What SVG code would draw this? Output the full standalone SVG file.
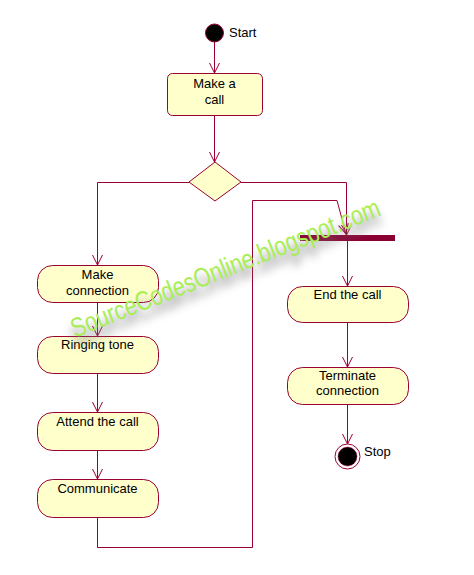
<svg xmlns="http://www.w3.org/2000/svg" width="474" height="575" viewBox="0 0 474 575">
<style>
.st{fill:#FFFFCC;stroke:#990033;stroke-width:1}
.ln{fill:none;stroke:#990033;stroke-width:1}
.tx{font-family:"Liberation Sans",Arial,sans-serif;font-size:13px;fill:#000;text-anchor:middle}
.lb{font-family:"Liberation Sans",Arial,sans-serif;font-size:13px;fill:#000}
.wm{font-family:"Liberation Sans",Arial,sans-serif;font-size:27px}
</style>
<defs>
<marker id="ar" markerUnits="userSpaceOnUse" markerWidth="14" markerHeight="14" refX="0" refY="0" viewBox="-12 -7 14 14" orient="auto" overflow="visible">
<path d="M-10,-5 L0,0 L-10,5" fill="none" stroke="#990033" stroke-width="1"/>
</marker>
<filter id="sh" x="-20%" y="-100%" width="140%" height="300%">
<feGaussianBlur stdDeviation="4"/>
</filter>
</defs>
<rect width="474" height="575" fill="#fff"/>
<g id="connectors">
<path class="ln" d="M214.5,42 V73" marker-end="url(#ar)"/>
<path class="ln" d="M214.5,115 V162" marker-end="url(#ar)"/>
<path class="ln" d="M189,182.5 H97.5 V265" marker-end="url(#ar)"/>
<path class="ln" d="M241,182.5 H346.5 V235" marker-end="url(#ar)"/>
<path class="ln" d="M97.5,302 V336" marker-end="url(#ar)"/>
<path class="ln" d="M97.5,373 V412" marker-end="url(#ar)"/>
<path class="ln" d="M97.5,450 V479" marker-end="url(#ar)"/>
<path class="ln" d="M97.5,517 V547.5 H252.5 V200.5 H337 L346,234" marker-end="url(#ar)"/>
<path class="ln" d="M347.5,241 V286" marker-end="url(#ar)"/>
<path class="ln" d="M347.5,322 V367" marker-end="url(#ar)"/>
<path class="ln" d="M347.5,404 V444" marker-end="url(#ar)"/>
</g>
<g id="start">
<circle cx="214.5" cy="33" r="9" fill="#000" stroke="#990033"/>
<text class="lb" x="229" y="37">Start</text>
</g>
<g id="make-call">
<rect class="st" x="167.5" y="73.5" width="95" height="42" rx="5"/>
<text class="tx" x="214.5" y="88">Make a</text>
<text class="tx" x="214.5" y="104">call</text>
</g>
<g id="decision">
<polygon class="st" points="215,162 241,182 215,201 189,182"/>
</g>
<g id="sync-bar">
<rect x="300" y="235" width="95" height="6" fill="#8B0033"/>
</g>
<g id="make-connection">
<rect class="st" x="37.5" y="265.5" width="121" height="37" rx="15"/>
<text class="tx" x="97.5" y="279">Make</text>
<text class="tx" x="97.5" y="295">connection</text>
</g>
<g id="ringing-tone">
<rect class="st" x="37.5" y="336.5" width="121" height="37" rx="15"/>
<text class="tx" x="97.5" y="349">Ringing tone</text>
</g>
<g id="attend-call">
<rect class="st" x="37.5" y="412.5" width="121" height="38" rx="15"/>
<text class="tx" x="97.5" y="425.5">Attend the call</text>
</g>
<g id="communicate">
<rect class="st" x="37.5" y="479.5" width="121" height="38" rx="15"/>
<text class="tx" x="97.5" y="492.5">Communicate</text>
</g>
<g id="end-call">
<rect class="st" x="287.5" y="286.5" width="121" height="36" rx="15"/>
<text class="tx" x="347.5" y="299">End the call</text>
</g>
<g id="terminate-connection">
<rect class="st" x="287.5" y="367.5" width="121" height="37" rx="15"/>
<text class="tx" x="347.5" y="380">Terminate</text>
<text class="tx" x="347.5" y="395">connection</text>
</g>
<g id="stop">
<circle cx="347.5" cy="456.5" r="12.5" fill="#fff" stroke="#990033"/>
<circle cx="347.5" cy="456.5" r="9.5" fill="#000" stroke="#990033" stroke-width="0.5"/>
<text class="lb" x="364" y="456">Stop</text>
</g>
<g id="watermark" transform="translate(75,338) rotate(-21.8)">
<text class="wm" x="-3" y="9" fill="#777" opacity="0.85" filter="url(#sh)" textLength="331" lengthAdjust="spacingAndGlyphs">SourceCodesOnline.blogspot.com</text>
<text class="wm" x="0" y="0" fill="#A8EE55" textLength="331" lengthAdjust="spacingAndGlyphs">SourceCodesOnline.blogspot.com</text>
</g>
</svg>
